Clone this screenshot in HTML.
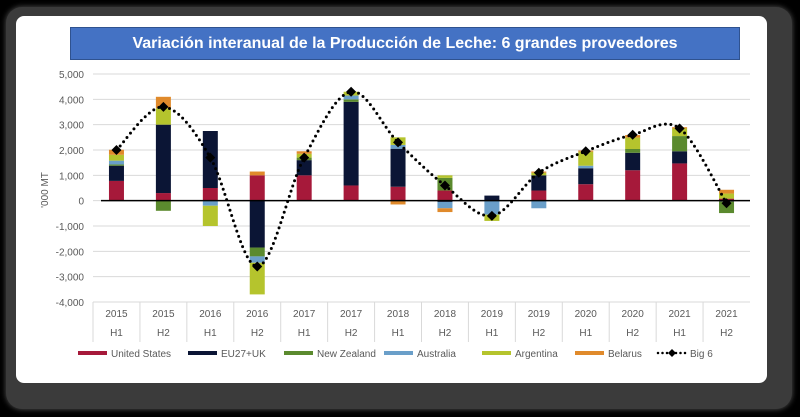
<!DOCTYPE html>
<html><head><meta charset="utf-8"><style>
html,body{margin:0;padding:0;background:#000;width:800px;height:417px;overflow:hidden;font-family:"Liberation Sans",sans-serif}
#frame{position:absolute;left:6px;top:7px;width:786px;height:402px;background:#3b3b3b;border-radius:16px;box-shadow:0 0 6px #555}
#panel{position:absolute;left:16px;top:16px;width:751px;height:367px;background:#fff;border-radius:8px}
#title{position:absolute;left:70px;top:27px;width:670px;height:33px;background:#4472c4;border:1px solid #2f528f;box-sizing:border-box;color:#fff;font-weight:bold;font-size:16px;line-height:31px;text-align:center}
svg{position:absolute;left:0;top:0}
</style></head><body>
<div id="frame"></div>
<div id="panel"></div>
<div id="title">Variación interanual de la Producción de Leche: 6 grandes proveedores</div>
<svg id="chart" width="800" height="417"></svg>
<script>
const years=["2015","2015","2016","2016","2017","2017","2018","2018","2019","2019","2020","2020","2021","2021"];
const halves=["H1","H2","H1","H2","H1","H2","H1","H2","H1","H2","H1","H2","H1","H2"];
const yTicks=[5000,4000,3000,2000,1000,0,-1000,-2000,-3000,-4000];
const seriesNames=["United States","EU27+UK","New Zealand","Australia","Argentina","Belarus"];
const seriesColors=["#a6193a","#0b1535","#5b8a2e","#6a9fc9","#b5c42d","#e08a2b"];
const usVals=[780,300,500,1000,1000,600,550,400,0,400,650,1200,1470,80];
const euVals=[600,2700,2250,-1850,600,3300,1500,-50,200,600,630,690,480,-40];
const nzVals=[50,-400,0,-350,100,100,0,500,0,0,0,150,600,-450];
const auVals=[150,0,-200,-250,0,150,150,-250,-550,-300,100,0,0,0];
const arVals=[230,650,-800,-1250,150,150,300,100,-250,100,550,450,300,200];
const byVals=[200,450,0,150,100,0,-150,-150,0,50,50,100,50,150];
const big6=[2000,3700,1700,-2600,1700,4300,2300,600,-600,1100,1950,2600,2850,-100];

const svg=document.getElementById('chart');
const NS="http://www.w3.org/2000/svg";
const x0=93,x1=750,yTop=74,yBot=302,vMax=5000,vMin=-4000;
const bw=(x1-x0)/years.length;
const xC=i=>x0+bw*(i+0.5);
const yS=v=>yTop+(vMax-v)/(vMax-vMin)*(yBot-yTop);
function mk(t,a,p){const e=document.createElementNS(NS,t);for(const k in a)e.setAttribute(k,a[k]);(p||svg).appendChild(e);return e;}

yTicks.forEach(t=>{
  const g=mk('line',{x1:x0,x2:x1,y1:yS(t),y2:yS(t),stroke:'#d9d9d9','stroke-width':1});
  
  
  const l=mk('text',{x:84,y:yS(t)+4,'text-anchor':'end','font-size':10,fill:'#595959'});
  l.textContent=t.toLocaleString('en-US');
  
  
});
const yt=mk('text',{x:0,y:0,transform:'translate(48,190) rotate(-90)','text-anchor':'middle','font-size':10,fill:'#595959'});
yt.textContent="'000 MT";



years.forEach((y,i)=>{
  const s=mk('line',{x1:x0+bw*i,x2:x0+bw*i,y1:yBot,y2:342,stroke:'#d9d9d9'});
  
  
  const a=mk('text',{x:xC(i),y:317,'text-anchor':'middle','font-size':10,fill:'#595959'});a.textContent=y;
  
  
  const b=mk('text',{x:xC(i),y:336,'text-anchor':'middle','font-size':10,fill:'#595959'});b.textContent=halves[i];
  
  
});

const allSeries=[usVals,euVals,nzVals,auVals,arVals,byVals];
years.forEach((y,i)=>{
  let pos=0,neg=0;
  allSeries.forEach((arr,s)=>{
    const v=arr[i]; if(!v)return;
    let a,b; if(v>0){a=pos;b=pos+v;pos=b;}else{a=neg;b=neg+v;neg=b;}
    const r=mk('rect',{x:xC(i)-7.5,width:15,y:yS(Math.max(a,b)),height:Math.abs(yS(a)-yS(b)),fill:seriesColors[s]});
    
    
  });
});
const zl=mk('line',{x1:x0+8,x2:x1,y1:yS(0),y2:yS(0),stroke:'#000','stroke-width':1.5});



const pts=big6.map((v,i)=>[xC(i),yS(v)]);
let d=`M${pts[0][0]},${pts[0][1]}`;
for(let i=0;i<pts.length-1;i++){
  const p0=pts[Math.max(0,i-1)],p1=pts[i],p2=pts[i+1],p3=pts[Math.min(pts.length-1,i+2)];
  const c1=[p1[0]+(p2[0]-p0[0])/6,p1[1]+(p2[1]-p0[1])/6],c2=[p2[0]-(p3[0]-p1[0])/6,p2[1]-(p3[1]-p1[1])/6];
  d+=` C${c1[0]},${c1[1]} ${c2[0]},${c2[1]} ${p2[0]},${p2[1]}`;
}
const ln=mk('path',{d:d,fill:'none',stroke:'#000','stroke-width':3,'stroke-dasharray':'0 5.5','stroke-linecap':'round'});


pts.forEach(p=>{
  const m=mk('path',{d:`M${p[0]},${p[1]-5}L${p[0]+5},${p[1]}L${p[0]},${p[1]+5}L${p[0]-5},${p[1]}Z`,fill:'#000'});
  
  
});

const legX=[78,188,284,384,482,575];
seriesNames.forEach((n,s)=>{
  const r=mk('rect',{x:legX[s],y:351,width:29,height:4,fill:seriesColors[s]});
  
  
  const t=mk('text',{x:legX[s]+33,y:357,'font-size':10,fill:'#595959'});t.textContent=n;
  
  
});
const ll=mk('line',{x1:658,x2:686,y1:353,y2:353,stroke:'#000','stroke-width':2.5,'stroke-dasharray':'0 4.5','stroke-linecap':'round'});


const lm=mk('path',{d:'M672,349L676,353L672,357L668,353Z',fill:'#000'});


const lt=mk('text',{x:690,y:357,'font-size':10,fill:'#595959'});lt.textContent="Big 6";


</script>
</body></html>
